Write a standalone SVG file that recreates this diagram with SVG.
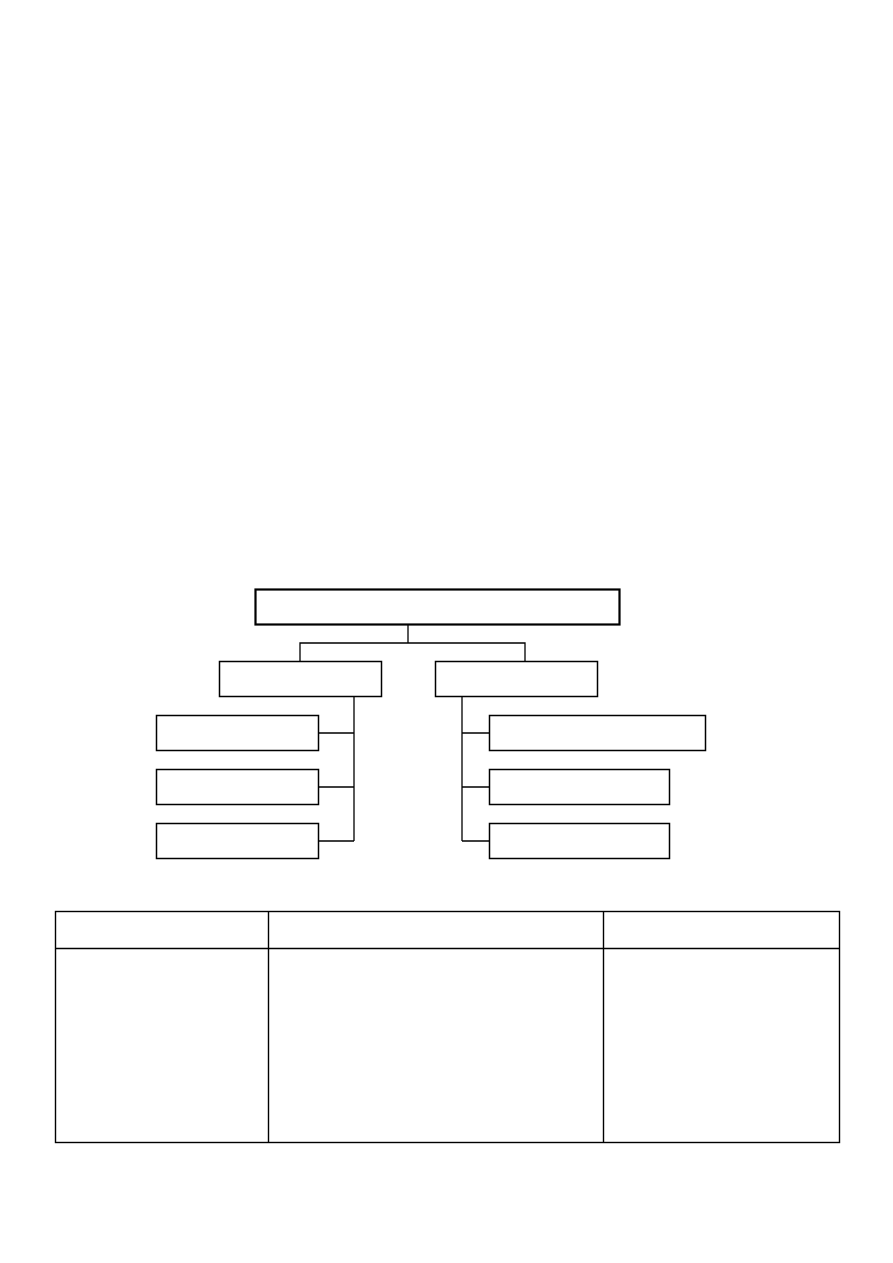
<svg xmlns="http://www.w3.org/2000/svg" width="893" height="1263" viewBox="0 0 893 1263">
<style>
.n{fill:#fff;stroke:#000;stroke-width:1.5}
.top{fill:#fff;stroke:#000;stroke-width:2.2}
.c{fill:none;stroke:#000;stroke-width:1.3}
.t{fill:none;stroke:#000;stroke-width:1.4}
</style>
<rect width="893" height="1263" fill="#fff"/>
<g id="connectors">
<path class="c" d="M408,625V643M300,661V643H525V661"/>
<path class="c" d="M354,697V841M318,733H354M318,787H354M318,841H354"/>
<path class="c" d="M462,697V841M462,733H489M462,787H489M462,841H489"/>
</g>
<g id="root"><rect class="top" x="255.5" y="589.5" width="364" height="35"/></g>
<g id="left"><rect class="n" x="219.5" y="661.5" width="162" height="35"/></g>
<g id="right"><rect class="n" x="435.5" y="661.5" width="162" height="35"/></g>
<g id="left1"><rect class="n" x="156.5" y="715.5" width="162" height="35"/></g>
<g id="left2"><rect class="n" x="156.5" y="769.5" width="162" height="35"/></g>
<g id="left3"><rect class="n" x="156.5" y="823.5" width="162" height="35"/></g>
<g id="right1"><rect class="n" x="489.5" y="715.5" width="216" height="35"/></g>
<g id="right2"><rect class="n" x="489.5" y="769.5" width="180" height="35"/></g>
<g id="right3"><rect class="n" x="489.5" y="823.5" width="180" height="35"/></g>
<g id="table">
<rect class="t" x="55.5" y="911.5" width="784" height="231"/>
<path class="t" d="M55.5,948.5H839.5M268.5,911.5V1142.5M603.5,911.5V1142.5"/>
</g>
</svg>
